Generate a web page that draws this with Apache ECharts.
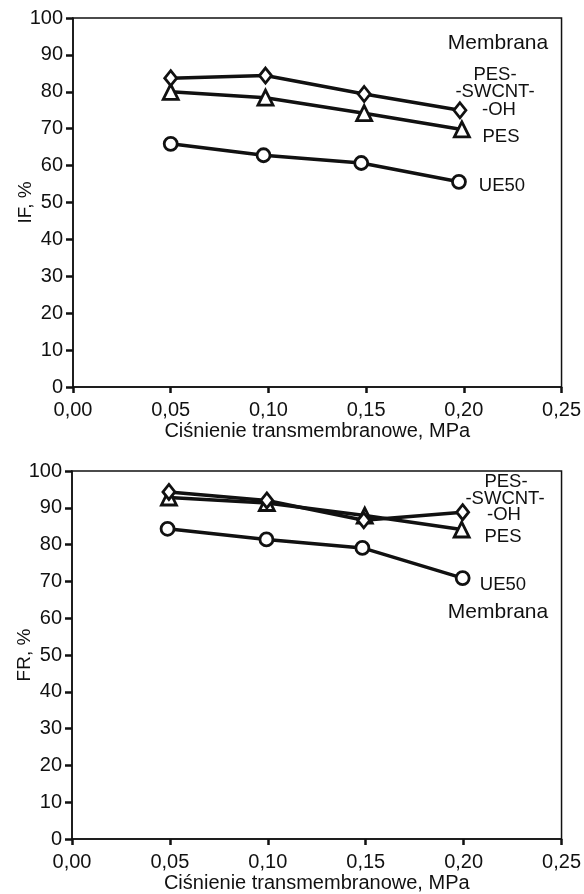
<!DOCTYPE html>
<html>
<head>
<meta charset="utf-8">
<script src="https://cdn.jsdelivr.net/npm/echarts@6/dist/echarts.min.js"></script>
<style>
  html, body { margin: 0; padding: 0; background: #fff; }
  #chart { width: 584px; height: 894px; }
</style>
</head>
<body>
<div id="chart"></div>
<script>
// Ciśnienie transmembranowe, MPa (odczyt z wykresu)
const xTicks = ['0,00', '0,05', '0,10', '0,15', '0,20', '0,25']

// IF, % (górny wykres)
const ifSwcntX = [0.050, 0.0985, 0.149, 0.198]
const ifSwcntY = [83.7, 84.4, 79.4, 75.0]
const ifPesX = [0.050, 0.0985, 0.149, 0.199]
const ifPesY = [80.0, 78.4, 74.2, 69.8]
const ifUe50X = [0.050, 0.0975, 0.1475, 0.1975]
const ifUe50Y = [65.9, 62.8, 60.7, 55.6]

// FR, % (dolny wykres)
const frSwcntX = [0.0495, 0.0995, 0.149, 0.1995]
const frSwcntY = [94.3, 92.0, 86.6, 88.8]
const frPesX = [0.0495, 0.0995, 0.1495, 0.199]
const frPesY = [92.8, 91.3, 87.9, 84.1]
const frUe50X = [0.0488, 0.0993, 0.1483, 0.1995]
const frUe50Y = [84.3, 81.4, 79.1, 70.9]

const FONT = '"Liberation Sans", Arial, sans-serif'
const INK = '#111'

function pts(xs, ys) {
  return xs.map((x, i) => [x, ys[i]])
}

function xAxisCfg(gridIndex) {
  return {
    type: 'value',
    gridIndex: gridIndex,
    min: 0,
    max: 0.25,
    interval: 0.05,
    name: 'Ciśnienie transmembranowe, MPa',
    nameLocation: 'middle',
    nameGap: 34,
    nameMoveOverlap: false,
    nameTextStyle: { color: INK, fontSize: 20, fontFamily: FONT },
    axisLine: { lineStyle: { color: INK, width: 1.5 } },
    axisTick: { show: true, length: 6, lineStyle: { color: INK, width: 2.5 } },
    splitLine: { show: false },
    axisLabel: {
      color: INK, fontSize: 20, fontFamily: FONT, margin: 13,
      formatter: function (v) { return xTicks[Math.round(v / 0.05)] }
    }
  }
}

function yAxisCfg(gridIndex, name) {
  return {
    type: 'value',
    gridIndex: gridIndex,
    min: 0,
    max: 100,
    interval: 10,
    name: name,
    nameLocation: 'middle',
    nameGap: 38,
    nameMoveOverlap: false,
    nameTextStyle: { color: INK, fontSize: 19, fontFamily: FONT },
    axisLine: { lineStyle: { color: INK, width: 1.5 } },
    axisTick: { show: true, length: 7, lineStyle: { color: INK, width: 2.5 } },
    splitLine: { show: false },
    axisLabel: { color: INK, fontSize: 20, fontFamily: FONT, margin: 10 }
  }
}

function lineSeries(name, idx, data, symbol, size) {
  return {
    name: name,
    type: 'line',
    xAxisIndex: idx,
    yAxisIndex: idx,
    data: data,
    symbol: symbol,
    symbolSize: size,
    showAllSymbol: true,
    animation: false,
    lineStyle: { color: INK, width: 3.5 },
    itemStyle: { color: '#fff', borderColor: INK, borderWidth: 2.8 },
    emphasis: { disabled: true }
  }
}

function label(text, x, y, size) {
  return {
    type: 'text',
    x: x,
    y: y,
    style: {
      text: text,
      fill: INK,
      font: (size || 18.5) + 'px ' + FONT,
      textAlign: 'center',
      textVerticalAlign: 'middle'
    }
  }
}

let dom = echarts.init(document.getElementById('chart'), null, { renderer: 'canvas' })
let option = {
  backgroundColor: '#fff',
  animation: false,
  grid: [
    { left: 73, top: 18, width: 490, height: 369, show: true, borderColor: INK, borderWidth: 1.5 },
    { left: 72, top: 471, width: 491, height: 368, show: true, borderColor: INK, borderWidth: 1.5 }
  ],
  xAxis: [xAxisCfg(0), xAxisCfg(1)],
  yAxis: [yAxisCfg(0, 'IF, %'), yAxisCfg(1, 'FR, %')],
  series: [
    lineSeries('UE50', 0, pts(ifUe50X, ifUe50Y), 'circle', 13),
    lineSeries('PES', 0, pts(ifPesX, ifPesY), 'triangle', 15),
    lineSeries('PES-SWCNT-OH', 0, pts(ifSwcntX, ifSwcntY), 'diamond', [12, 15]),
    lineSeries('UE50', 1, pts(frUe50X, frUe50Y), 'circle', 13),
    lineSeries('PES', 1, pts(frPesX, frPesY), 'triangle', 15),
    lineSeries('PES-SWCNT-OH', 1, pts(frSwcntX, frSwcntY), 'diamond', [12, 15])
  ],
  graphic: [
    label('Membrana', 498, 43, 21),
    label('PES-', 495, 75),
    label('-SWCNT-', 495, 92),
    label('-OH', 499, 110),
    label('PES', 501, 137),
    label('UE50', 502, 186),
    label('PES-', 506, 482),
    label('-SWCNT-', 505, 499),
    label('-OH', 504, 515),
    label('PES', 503, 537),
    label('UE50', 503, 585),
    label('Membrana', 498, 612, 21)
  ]
}
dom.setOption(option)
window.addEventListener('resize', dom.resize)
</script>
</body>
</html>
